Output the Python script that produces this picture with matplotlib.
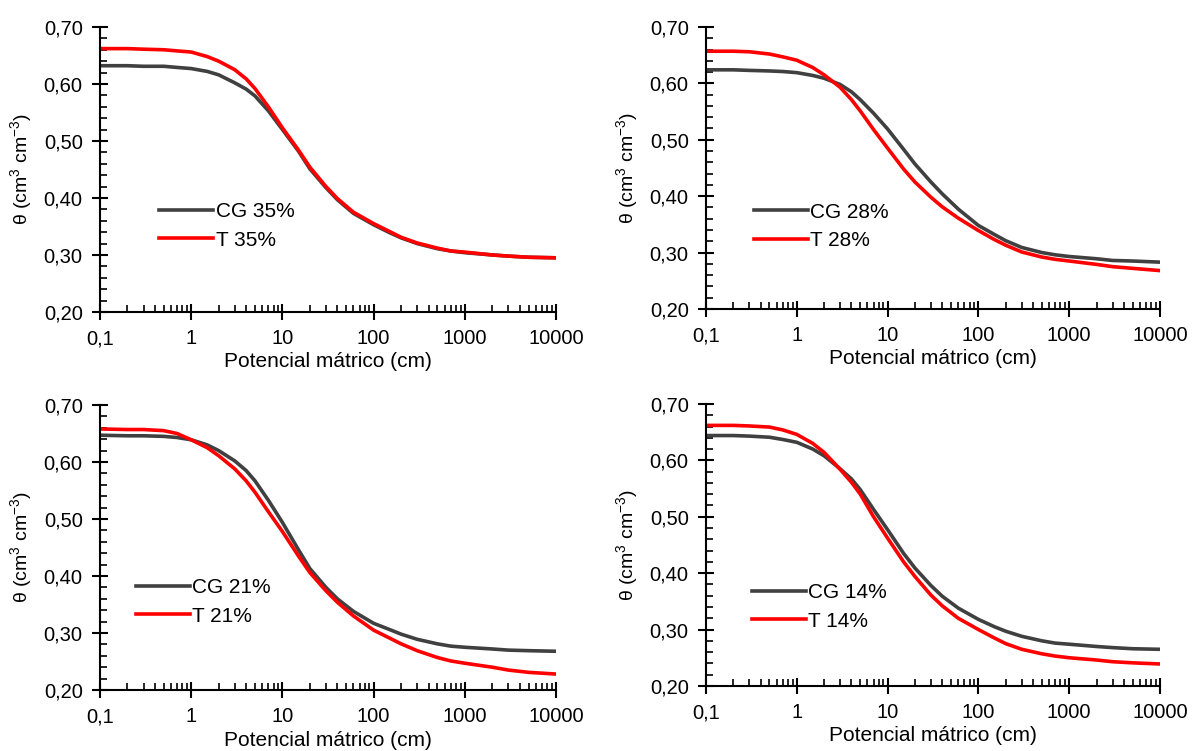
import numpy as np
import matplotlib
matplotlib.use('Agg')
from matplotlib import pyplot as plt
from matplotlib.ticker import LogLocator, MultipleLocator, FuncFormatter

plt.rcParams['font.family'] = ['Liberation Sans', 'DejaVu Sans']
plt.rcParams['mathtext.default'] = 'regular'

# matric potential (cm)
potential = [0.1, 0.2, 0.3, 0.5, 0.7, 1, 1.5, 2, 3, 4, 5, 7, 10, 15, 20, 30, 40, 60,
             100, 150, 200, 300, 500, 700, 1000, 2000, 3000, 5000, 10000]

# water content (cm3 cm-3)
cg_35 = [0.632, 0.632, 0.631, 0.631, 0.629, 0.627, 0.622, 0.616, 0.602, 0.591, 0.579, 0.553, 0.520, 0.482,
         0.451, 0.418, 0.397, 0.373, 0.353, 0.339, 0.330, 0.320, 0.311, 0.307, 0.304, 0.300, 0.298, 0.296, 0.295]
t_35 = [0.662, 0.662, 0.661, 0.660, 0.658, 0.656, 0.648, 0.640, 0.625, 0.609, 0.592, 0.560, 0.523, 0.484,
        0.454, 0.420, 0.399, 0.375, 0.355, 0.341, 0.331, 0.321, 0.312, 0.307, 0.305, 0.300, 0.298, 0.296, 0.295]

cg_28 = [0.624, 0.624, 0.623, 0.622, 0.621, 0.619, 0.614, 0.609, 0.598, 0.585, 0.571, 0.547, 0.519, 0.483,
         0.457, 0.425, 0.404, 0.377, 0.348, 0.332, 0.321, 0.309, 0.300, 0.296, 0.293, 0.289, 0.286, 0.285, 0.283]
t_28 = [0.657, 0.657, 0.656, 0.652, 0.647, 0.641, 0.628, 0.615, 0.593, 0.571, 0.551, 0.518, 0.485, 0.448,
        0.425, 0.398, 0.381, 0.361, 0.339, 0.323, 0.313, 0.301, 0.292, 0.288, 0.285, 0.279, 0.275, 0.272, 0.268]

cg_21 = [0.647, 0.646, 0.646, 0.645, 0.643, 0.639, 0.630, 0.620, 0.602, 0.585, 0.567, 0.533, 0.494, 0.446,
         0.413, 0.380, 0.360, 0.338, 0.317, 0.306, 0.298, 0.289, 0.281, 0.277, 0.275, 0.272, 0.270, 0.269, 0.268]
t_21 = [0.658, 0.657, 0.657, 0.655, 0.650, 0.639, 0.625, 0.611, 0.588, 0.567, 0.547, 0.513, 0.478, 0.435,
        0.406, 0.374, 0.354, 0.330, 0.305, 0.291, 0.281, 0.269, 0.257, 0.251, 0.247, 0.240, 0.235, 0.231, 0.228]

cg_14 = [0.644, 0.644, 0.643, 0.641, 0.637, 0.632, 0.620, 0.608, 0.585, 0.567, 0.548, 0.513, 0.477, 0.435,
         0.409, 0.378, 0.359, 0.338, 0.318, 0.305, 0.297, 0.288, 0.280, 0.276, 0.274, 0.270, 0.268, 0.266, 0.265]
t_14 = [0.662, 0.662, 0.661, 0.659, 0.654, 0.646, 0.630, 0.614, 0.584, 0.561, 0.540, 0.500, 0.462, 0.420,
        0.394, 0.361, 0.342, 0.320, 0.300, 0.285, 0.275, 0.265, 0.257, 0.253, 0.250, 0.246, 0.243, 0.241, 0.239]

labels = ['35%', '28%', '21%', '14%']
cg_series = [cg_35, cg_28, cg_21, cg_14]
t_series = [t_35, t_28, t_21, t_14]

# axes rectangles in figure fraction (left, bottom, width, height)
rects = [
    (0.0839, 0.5846, 0.3826, 0.3795),
    (0.5923, 0.5886, 0.3809, 0.3755),
    (0.0839, 0.0812, 0.3826, 0.3795),
    (0.5923, 0.0866, 0.3809, 0.3755),
]
legend_pos = [(0.13, 0.302), (0.106, 0.293), (0.079, 0.309), (0.101, 0.28)]


def x_fmt(v, pos):
    if v < 1:
        return '0,1'
    return '%d' % v


def y_fmt(v, pos):
    return ('%.2f' % v).replace('.', ',')


fig = plt.figure(figsize=(11.92, 7.51), dpi=100)

for i in range(4):
    ax = fig.add_axes(rects[i])
    ax.plot(potential, cg_series[i], color='#404040', lw=2.6, label='CG ' + labels[i])
    ax.plot(potential, t_series[i], color='#ff0000', lw=2.6, label='T ' + labels[i])

    ax.set_xscale('log')
    ax.set_xlim(0.1, 10000)
    ax.set_ylim(0.2, 0.7)
    ax.xaxis.set_major_locator(LogLocator(base=10, numticks=10))
    ax.xaxis.set_minor_locator(LogLocator(base=10, subs=np.arange(2, 10), numticks=20))
    ax.xaxis.set_major_formatter(FuncFormatter(x_fmt))
    ax.xaxis.set_minor_formatter(plt.NullFormatter())
    ax.yaxis.set_major_locator(MultipleLocator(0.1))
    ax.yaxis.set_minor_locator(MultipleLocator(0.02))
    ax.yaxis.set_major_formatter(FuncFormatter(y_fmt))

    for s in ['top', 'right']:
        ax.spines[s].set_visible(False)
    for s in ['left', 'bottom']:
        ax.spines[s].set_linewidth(1.5)
    ax.tick_params(which='major', direction='inout', length=11, width=1.5, labelsize=14.5, pad=7)
    ax.tick_params(which='minor', direction='in', length=5, width=1.2)

    ax.set_xlabel('Potencial mátrico (cm)', fontsize=15, labelpad=3)
    ax.set_ylabel(r'θ (cm$^3$ cm$^{-3}$)', fontsize=14, labelpad=7)

    ax.legend(loc='center left', bbox_to_anchor=legend_pos[i], frameon=False,
              fontsize=15, handlelength=2.6, handletextpad=0.1, borderpad=0,
              borderaxespad=0, labelspacing=0.45)

fig.savefig('out.png', dpi=100)
